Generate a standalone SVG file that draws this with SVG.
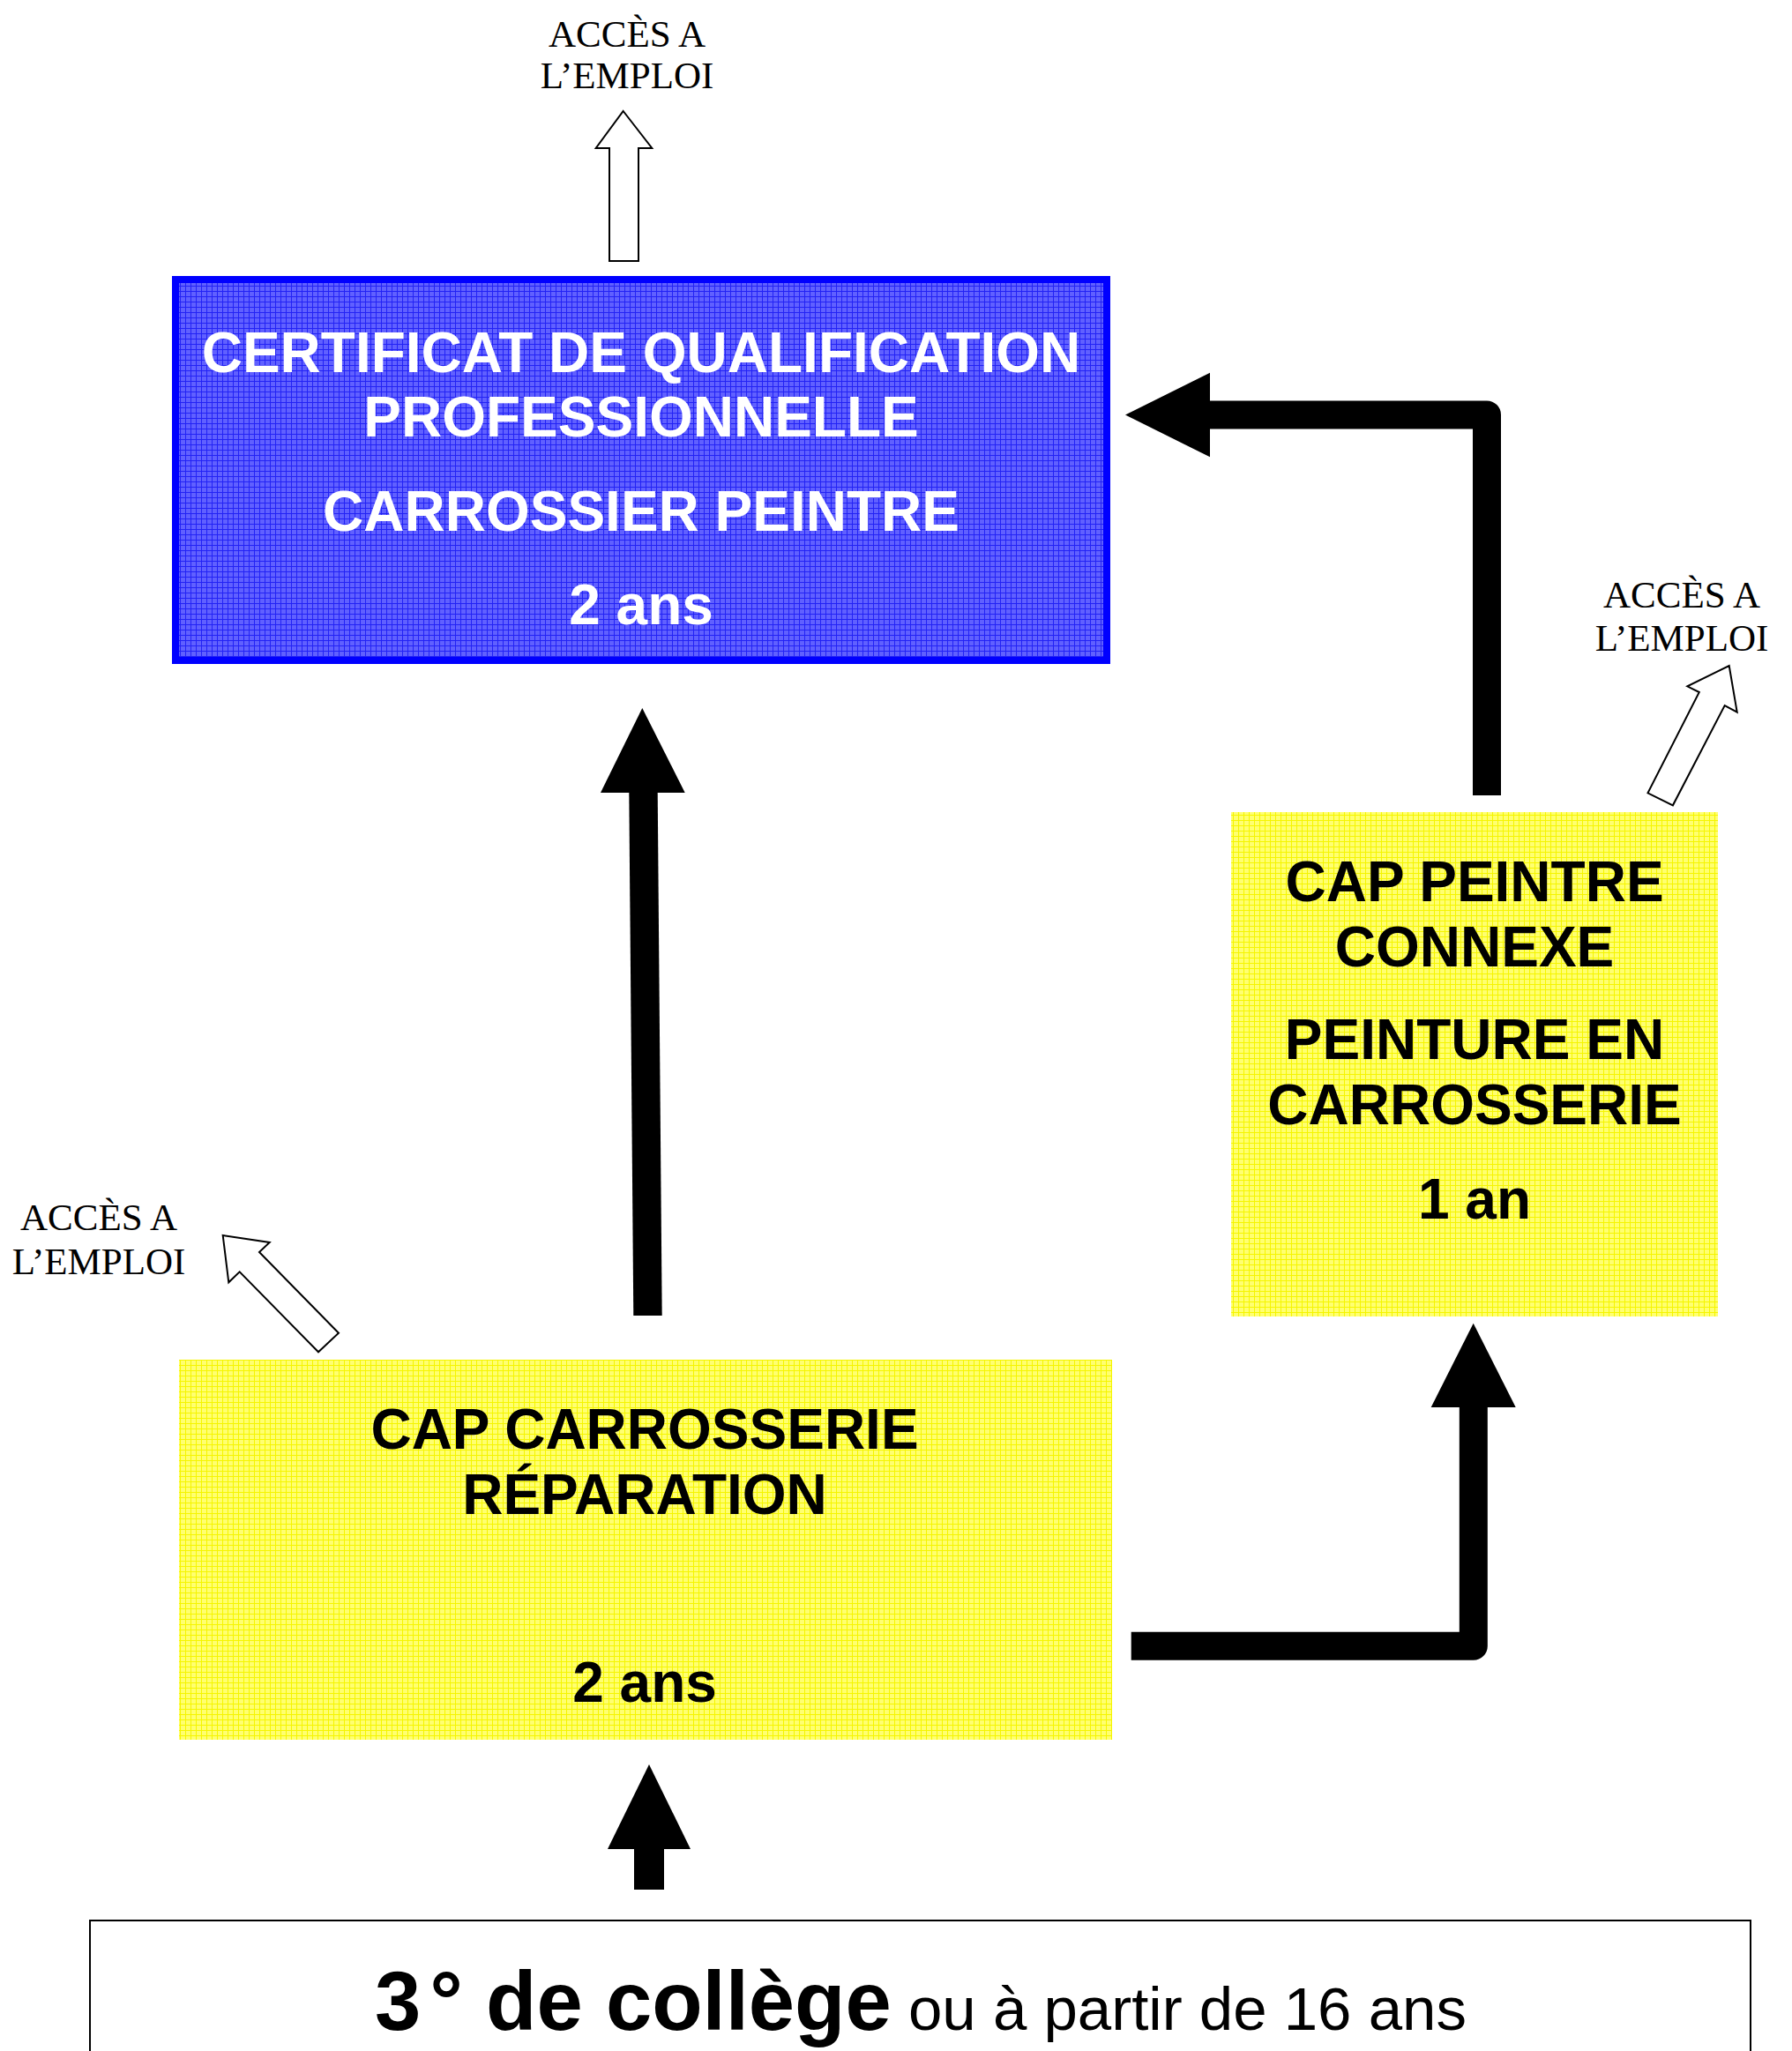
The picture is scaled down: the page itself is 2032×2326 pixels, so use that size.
<svg xmlns="http://www.w3.org/2000/svg" width="2032" height="2326" viewBox="0 0 2032 2326">
  <defs>
    <pattern id="pblue" width="6" height="6" patternUnits="userSpaceOnUse">
      <rect width="6" height="6" fill="#6060ff"/>
      <path d="M0 0.5H6M0.5 0V6" stroke="#2323f5" stroke-width="1"/>
    </pattern>
    <pattern id="pyellow" width="6" height="6" patternUnits="userSpaceOnUse">
      <rect width="6" height="6" fill="#ffff70"/>
      <path d="M0 0.5H6M0.5 0V6" stroke="#f5f500" stroke-width="1"/>
    </pattern>
    <style>
      .box-title { font-family: "Liberation Sans", Arial, Helvetica, sans-serif; font-weight: bold; font-size: 64px; text-anchor: middle; }
      .white { fill: #ffffff; }
      .black { fill: #000000; }
      .acces { font-family: "Liberation Serif", "Times New Roman", serif; font-size: 43px; text-anchor: middle; fill: #000; }
      .hollow { fill: #ffffff; stroke: #000000; stroke-width: 2; stroke-linejoin: miter; }
      .thick { fill: none; stroke: #000000; stroke-width: 32; stroke-linejoin: round; stroke-linecap: butt; }
      .head { fill: #000000; }
    </style>
  </defs>

  <rect width="2032" height="2326" fill="#ffffff"/>

  <!-- Nodes -->
  <g id="cqp">
    <rect x="199" y="317" width="1056" height="432" fill="url(#pblue)" stroke="#0000ff" stroke-width="8"/>
    <text class="box-title white" x="727" y="422">CERTIFICAT DE QUALIFICATION</text>
    <text class="box-title white" x="727" y="495">PROFESSIONNELLE</text>
    <text class="box-title white" x="727" y="602">CARROSSIER PEINTRE</text>
    <text class="box-title white" x="727" y="708">2 ans</text>
  </g>

  <g id="cap-peintre">
    <rect x="1396" y="921" width="552" height="572" fill="url(#pyellow)"/>
    <text class="box-title black" x="1672" y="1022">CAP PEINTRE</text>
    <text class="box-title black" x="1672" y="1096">CONNEXE</text>
    <text class="box-title black" x="1672" y="1201">PEINTURE EN</text>
    <text class="box-title black" x="1672" y="1275">CARROSSERIE</text>
    <text class="box-title black" x="1672" y="1382">1 an</text>
  </g>

  <g id="cap-carrosserie">
    <rect x="203" y="1542" width="1058" height="431" fill="url(#pyellow)"/>
    <text class="box-title black" x="731" y="1643">CAP CARROSSERIE</text>
    <text class="box-title black" x="731" y="1717">RÉPARATION</text>
    <text class="box-title black" x="731" y="1930">2 ans</text>
  </g>

  <g id="college">
    <rect x="102" y="2178" width="1883" height="200" fill="#ffffff" stroke="#000000" stroke-width="2"/>
    <text x="1044" y="2302" text-anchor="middle" font-family="'Liberation Sans', Arial, Helvetica, sans-serif" fill="#000"><tspan font-weight="bold" font-size="94px">3<tspan dx="10">°</tspan> de collège</tspan><tspan font-size="69px"> ou à partir de 16 ans</tspan></text>
  </g>

  <g id="acces-top">
    <text class="acces" x="711" y="53">ACCÈS A</text>
    <text class="acces" x="711" y="100">L’EMPLOI</text>
  </g>
  <g id="acces-right">
    <text class="acces" x="1907" y="689">ACCÈS A</text>
    <text class="acces" x="1907" y="738">L’EMPLOI</text>
  </g>
  <g id="acces-left">
    <text class="acces" x="112" y="1395">ACCÈS A</text>
    <text class="acces" x="112" y="1445">L’EMPLOI</text>
  </g>

  <!-- Connectors -->
  <g id="connectors">
    <!-- hollow arrows to "accès à l'emploi" -->
    <path class="hollow" d="M706.7 126 L739.3 168 L724 168 L724 296 L691 296 L691 168 L675.7 168 Z"/>
    <path class="hollow" d="M1960.7 755 L1969.7 807.7 L1955.7 800 L1896.9 913.3 L1868.5 899.3 L1926.8 785 L1913.3 778.3 Z"/>
    <path class="hollow" d="M252.7 1401 L305.7 1409 L294 1420 L384 1511.7 L361 1533.3 L271.7 1442.3 L259.3 1454.3 Z"/>

    <!-- college -> CAP carrosserie -->
    <polygon class="head" points="719,2096 753,2096 753,2143 719,2143"/>
    <polygon class="head" points="689,2097 736,2001 783,2097"/>

    <!-- CAP carrosserie -> CQP -->
    <polygon class="head" points="713.3,898 745.7,898 750.7,1492 718.3,1492"/>
    <polygon class="head" points="681,899 728.3,803 776.7,899"/>

    <!-- CAP carrosserie -> CAP peintre -->
    <path class="thick" d="M1282.7 1866.7 H1670.8 V1595"/>
    <polygon class="head" points="1622.7,1596 1670.7,1500.7 1718.7,1596"/>

    <!-- CAP peintre -> CQP -->
    <path class="thick" d="M1686 902 V470.4 H1371"/>
    <polygon class="head" points="1372,422.7 1276,470.5 1372,518.3"/>
  </g>
</svg>
